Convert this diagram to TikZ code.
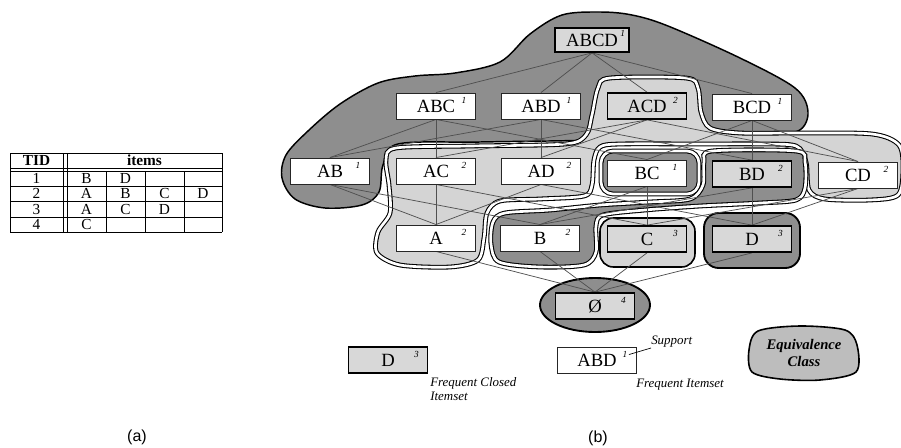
\documentclass[tikz,border=0pt]{standalone}
\usepackage{fontspec}
\setmainfont{Liberation Serif}
\newfontfamily\labsans{Liberation Sans}
\usetikzlibrary{calc}
\definecolor{regdark}{HTML}{8E8E8E}
\definecolor{reglight}{HTML}{D4D4D4}
\definecolor{boxgray}{HTML}{D8D8D8}
\definecolor{edgegray}{HTML}{505050}
\definecolor{legendgray}{HTML}{BDBDBD}
\pgfdeclarelayer{regions}
\pgfdeclarelayer{edges}
\pgfsetlayers{regions,edges,main}
\newcommand{\isnode}[5]{%
  \node[#1] (#2) at (#3) {#4};
  \node[supst] (#2s) at ([xshift=-7pt,yshift=-3.5pt]#2.north east) {#5};}
\begin{document}
\begin{tikzpicture}[x=0.75pt,y=-0.75pt,
  openbox/.style={draw=black!85, line width=0.7pt, fill=white, minimum width=59.25pt,
    minimum height=19.5pt, inner sep=0pt, font=\fontsize{14}{16}\selectfont},
  closedbox/.style={openbox, fill=boxgray, draw=black, line width=1.3pt},
  supst/.style={font=\fontsize{7}{8}\selectfont\itshape, inner sep=0pt, anchor=north east},
  edgeln/.style={draw=edgegray, line width=0.55pt},
  darkreg/.style={fill=regdark, draw=black, line width=1.1pt},
  darkdbl/.style={fill=regdark, draw=black, double=white, double distance=2pt, line width=0.8pt},
  lightdbl/.style={fill=reglight, draw=black, double=white, double distance=2pt, line width=0.8pt},
  lightreg/.style={fill=reglight, draw=black, line width=1.1pt},
  tabline/.style={draw=black, line width=0.5pt},
  tabtxt/.style={font=\fontsize{11.5}{12}\selectfont, inner sep=0pt},
  legtxt/.style={font=\fontsize{9.7}{11}\selectfont\itshape, inner sep=0pt, align=left},
  caption/.style={font=\labsans\fontsize{12}{14}\selectfont, inner sep=0pt}]
\useasboundingbox (0,0) rectangle (901,447);

% ---------- (a) table ----------
\foreach \yy in {153,168,171,186,201,217,232} \draw[tabline] (10,\yy) -- (222,\yy);
\foreach \xx in {10,63,67,222} \draw[tabline] (\xx,153) -- (\xx,232);
\foreach \xx in {106,145,184} \draw[tabline] (\xx,171) -- (\xx,232);
\node[tabtxt, font=\fontsize{11.5}{12}\selectfont\bfseries] (tid) at (36.5,160.5) {TID};
\node[tabtxt, font=\fontsize{11.5}{12}\selectfont\bfseries] (items) at (144.5,160.5) {items};
\node[tabtxt] (r1) at (36.5,178.5) {1};
\node[tabtxt] (r1a) at (86.5,178.5) {B};
\node[tabtxt] (r1b) at (125.5,178.5) {D};
\node[tabtxt] (r2) at (36.5,193.5) {2};
\node[tabtxt] (r2a) at (86.5,193.5) {A};
\node[tabtxt] (r2b) at (125.5,193.5) {B};
\node[tabtxt] (r2c) at (164.5,193.5) {C};
\node[tabtxt] (r2d) at (203,193.5) {D};
\node[tabtxt] (r3) at (36.5,209) {3};
\node[tabtxt] (r3a) at (86.5,209) {A};
\node[tabtxt] (r3b) at (125.5,209) {C};
\node[tabtxt] (r3c) at (164.5,209) {D};
\node[tabtxt] (r4) at (36.5,224.5) {4};
\node[tabtxt] (r4a) at (86.5,224.5) {C};
\node[caption] (capa) at (137,437) {(a)};

% ---------- (b) equivalence-class regions ----------
\begin{pgfonlayer}{regions}
\path[darkreg] plot[smooth cycle, tension=0.55] coordinates {
 (455,73) (500,62) (530,34) (562,15) (600,12) (632,15) (668,26) (740,58) (795,88)
 (808,112) (798,131) (760,133) (700,136) (600,140) (480,142) (398,144) (383,165)
 (379,192) (362,205) (325,208) (295,199) (282,178) (286,155) (308,131) (340,104)
 (378,83) (415,76)};
\path[lightdbl] plot[smooth cycle, tension=0.5] coordinates {
 (598,88) (610,78) (686,78) (698,88) (701,112) (710,128) (740,133) (800,133) (872,134)
 (899,145) (903,170) (898,195) (870,200) (825,199) (809,190) (806,162) (796,146)
 (760,144) (700,144) (620,144) (600,147) (594,160) (592,185) (584,196) (540,199)
 (500,201) (487,213) (484,238) (478,260) (450,267) (400,265) (377,253) (378,232)
 (390,213) (389,185) (386,160) (396,148) (470,146) (565,144) (586,135) (592,115)};
\draw[darkdbl, rounded corners=9pt] (601,151) rectangle (699,194);
\path[darkdbl] plot[smooth cycle, tension=0.5] coordinates {
 (712,151) (796,151) (805,162) (805,188) (796,200) (760,203) (700,206) (645,210)
 (603,215) (596,226) (596,252) (584,265) (540,267) (499,262) (491,244) (493,222)
 (505,213) (550,210) (600,205) (650,202) (690,199) (703,185) (704,162)};
\draw[lightreg, line width=1.2pt, rounded corners=10pt] (600,218) rectangle (695,267);
\draw[darkreg, line width=1.4pt, rounded corners=11pt] (704,213) rectangle (800,268);
\draw[darkreg, line width=1.4pt] (595,305) ellipse [x radius=55, y radius=27];
\end{pgfonlayer}

% ---------- itemset boxes ----------
\node[closedbox, minimum width=55.5pt, minimum height=18pt] (abcd) at (592,40) {ABCD};
\node[supst] (abcds) at ([xshift=-3.5pt,yshift=-2.5pt]abcd.north east) {1};
\isnode{openbox}{abc}{436,106}{ABC}{1}
\isnode{openbox}{abd}{541,106}{ABD}{1}
\isnode{closedbox}{acd}{647,106}{ACD}{2}
\isnode{openbox}{bcd}{752,107}{BCD}{1}
\isnode{openbox}{ab}{330,171}{AB}{1}
\isnode{openbox}{ac}{436,171}{AC}{2}
\isnode{openbox}{ad}{541,171}{AD}{2}
\isnode{openbox}{bc}{647,173}{BC}{1}
\isnode{closedbox}{bd}{752,174}{BD}{2}
\isnode{openbox}{cd}{858,175}{CD}{2}
\isnode{openbox}{a}{436,238}{A}{2}
\isnode{openbox}{b}{540,238}{B}{2}
\isnode{closedbox}{c}{647,239}{C}{3}
\isnode{closedbox}{d}{752,239}{D}{3}
\isnode{closedbox}{e}{595,306}{Ø}{4}

% ---------- lattice edges ----------
\begin{pgfonlayer}{edges}
\foreach \u/\v in {abcd/abc,abcd/abd,abcd/acd,abcd/bcd,
  abc/ab,abc/ac,abc/bc,abd/ab,abd/ad,abd/bd,acd/ac,acd/ad,acd/cd,bcd/bc,bcd/bd,bcd/cd,
  ab/a,ab/b,ac/a,ac/c,ad/a,ad/d,bc/b,bc/c,bd/b,bd/d,cd/c,cd/d,
  a/e,b/e,c/e,d/e}
  \draw[edgeln] (\u.south) -- (\v.north);
\end{pgfonlayer}

% ---------- legend ----------
\isnode{closedbox}{legd}{388,360}{D}{3}
\node[legtxt, anchor=north west] (legdt) at (430,377) {Frequent Closed\\Itemset};
\isnode{openbox}{legabd}{597,360}{ABD}{1}
\node[legtxt, anchor=south west] (legsup) at (651,348) {Support};
\draw[line width=0.5pt] ([xshift=1pt]legabds.east) -- (legsup.south west);
\node[legtxt, anchor=west] (legfi) at (636,385) {Frequent Itemset};
\path[fill=legendgray, draw=black, line width=1.2pt] plot[smooth cycle, tension=0.5] coordinates {
 (758,331) (800,326) (845,330) (857,345) (856,372) (820,380) (780,379) (752,372) (749,350)};
\node[font=\fontsize{11}{13}\selectfont\bfseries\itshape, align=center, inner sep=0pt] (legeq) at (804,353) {Equivalence\\Class};
\node[caption] (capb) at (598,438) {(b)};
\end{tikzpicture}
\end{document}
